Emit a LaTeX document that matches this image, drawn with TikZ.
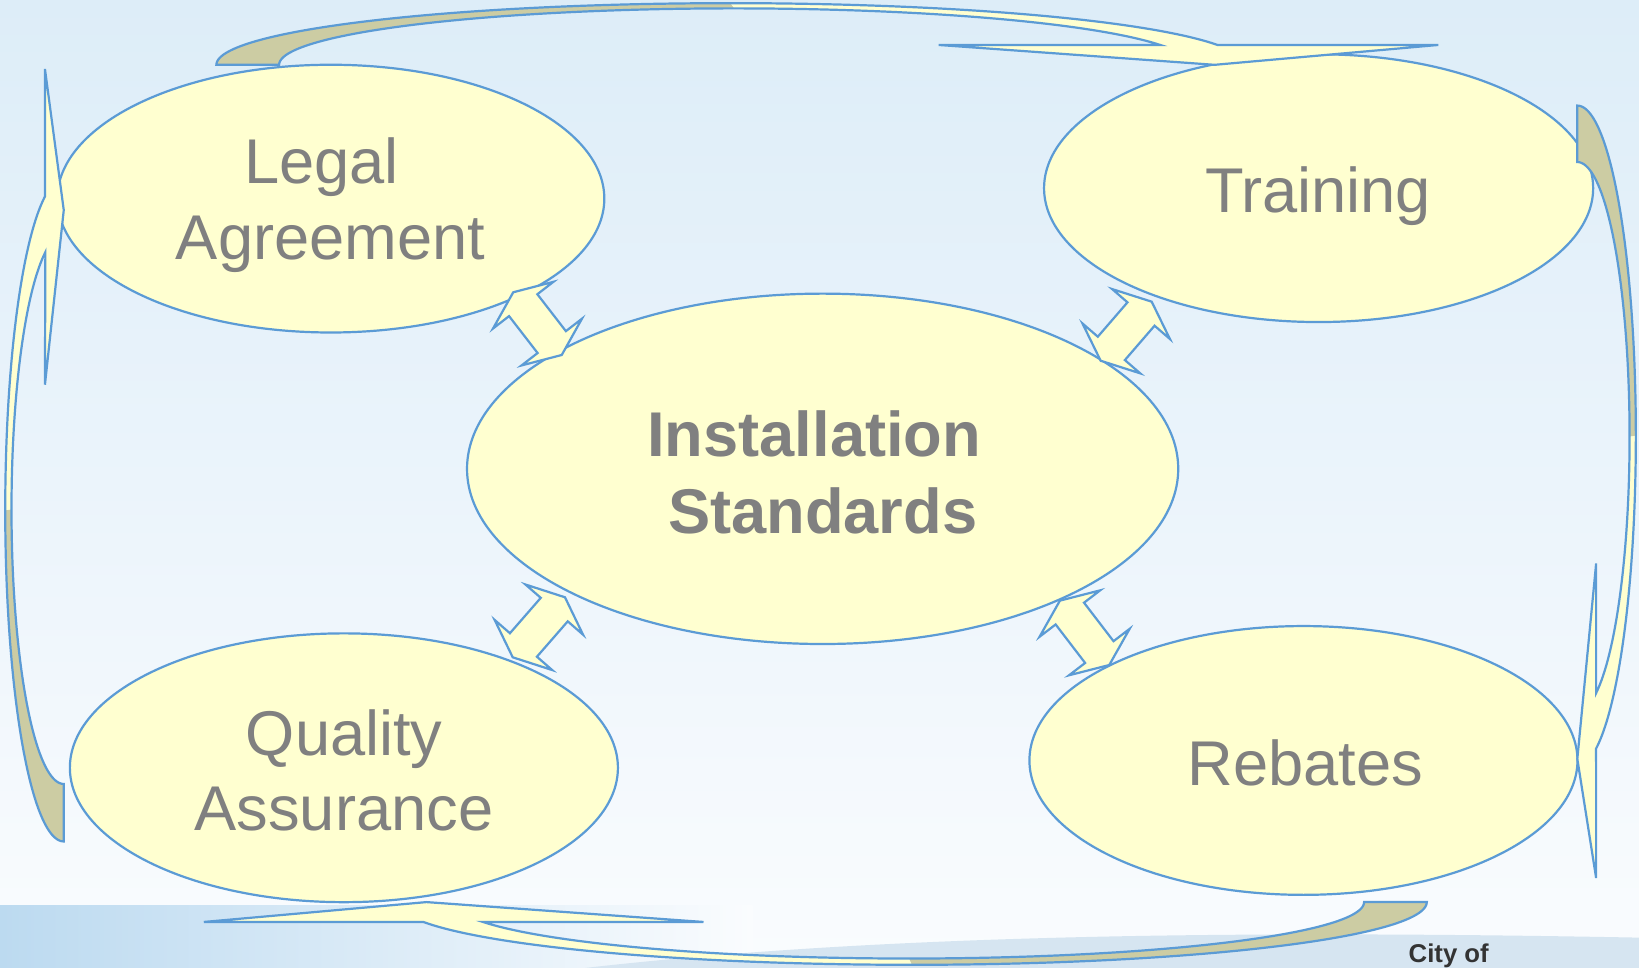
\documentclass[tikz,border=0pt]{standalone}
\usepackage{fontspec}
\setmainfont{Liberation Sans}
\usetikzlibrary{shapes.geometric,calc}
\definecolor{edgeblue}{RGB}{91,155,213}
\definecolor{bubblefill}{RGB}{255,255,208}
\definecolor{tanfill}{RGB}{204,204,163}
\definecolor{txtgray}{RGB}{128,128,128}
\definecolor{bgtop}{RGB}{221,237,248}
\definecolor{bgmid}{RGB}{235,244,251}
\definecolor{bgbot}{RGB}{250,252,254}
\definecolor{bandblue}{RGB}{188,218,240}
\definecolor{swoosh}{RGB}{214,229,241}
\tikzset{
  bubble/.style={ellipse, draw=edgeblue, line width=0.6pt, fill=bubblefill, inner sep=0pt},
  lbl/.style={anchor=base, text=txtgray, inner sep=0pt, font=\fontsize{17.2}{20}\selectfont},
  lblb/.style={anchor=base, text=txtgray, inner sep=0pt, font=\fontsize{17.2}{20}\selectfont\bfseries},
  dblarrow/.style={draw=edgeblue, fill=bubblefill, line width=0.6pt, line join=miter},
  tanband/.style={fill=tanfill},
  yelband/.style={fill=bubblefill},
  bandedge/.style={draw=edgeblue, line width=0.6pt, line join=miter},
}
\newcommand\dblarr[3]{%
  \coordinate (#1ha) at ($(#2)!0.156cm!(#3)$);
  \coordinate (#1hb) at ($(#3)!0.156cm!(#2)$);
  \filldraw[dblarrow] (#2)
    -- ($(#1ha)!0.365cm!90:(#3)$) -- ($(#1ha)!0.171cm!90:(#3)$)
    -- ($(#1hb)!0.171cm!-90:(#2)$) -- ($(#1hb)!0.365cm!-90:(#2)$)
    -- (#3)
    -- ($(#1hb)!0.365cm!90:(#2)$) -- ($(#1hb)!0.171cm!90:(#2)$)
    -- ($(#1ha)!0.171cm!-90:(#3)$) -- ($(#1ha)!0.365cm!-90:(#3)$)
    -- cycle;
}
\begin{document}
\begin{tikzpicture}[x=0.01cm,y=-0.01cm]
\useasboundingbox (0,0) rectangle (1568,926);
\clip (0,0) rectangle (1568,926);
% background
\shade[top color=bgtop, bottom color=bgbot, middle color=bgmid] (0,0) rectangle (1568,926);
\shade[left color=bandblue, right color=bgbot] (0,866) rectangle (720,926);
\fill[swoosh] (560,926) .. controls (850,893) and (1200,890) .. (1568,897) -- (1568,926) -- cycle;
\node[anchor=base west, inner sep=0pt, font=\fontsize{7}{8}\selectfont\bfseries, text=black!80] (city) at (1347,921) {City of};

% ellipses
\node[bubble, minimum width=5.23cm, minimum height=2.56cm] (legal) at (316.5,190) {};
\node[bubble, minimum width=5.25cm, minimum height=2.56cm] (training) at (1261.5,180) {};
\node[bubble, minimum width=6.80cm, minimum height=3.35cm] (install) at (787,448.5) {};
\node[bubble, minimum width=5.24cm, minimum height=2.57cm] (quality) at (329,734.5) {};
\node[bubble, minimum width=5.24cm, minimum height=2.57cm] (rebates) at (1247,727.5) {};

% labels
\node[lbl] (legal1) at (307.7,175.4) {Legal};
\node[lbl] (legal2) at (316.3,248.7) {Agreement};
\node[lbl] (train1) at (1261,203.5) {Training};
\node[lblb] (inst1) at (779,437) {Installation};
\node[lblb] (inst2) at (787,510) {Standards};
\node[lbl] (qual1) at (329.3,722.3) {Quality};
\node[lbl] (qual2) at (329,794.7) {Assurance};
\node[lbl] (reb1) at (1249,751) {Rebates};

% small double arrows
\coordinate (a1) at (491,279.6);   \coordinate (b1) at (537.4,339.6);
\coordinate (a2) at (1101.8,288.6); \coordinate (b2) at (1053,345.1);
\coordinate (a3) at (540.5,571.4); \coordinate (b3) at (490.5,628.8);
\coordinate (a4) at (1014,574.6);  \coordinate (b4) at (1061.2,636.2);
\dblarr{da}{a1}{b1}
\dblarr{db}{a2}{b2}
\dblarr{dc}{a3}{b3}
\dblarr{dd}{a4}{b4}

% top curved arrow (Legal -> Training)
\fill[tanband] plot[domain=180:270, samples=60] ({699+492*cos(\x)},{62+59*sin(\x)})
  -- plot[domain=270:180, samples=60] ({702.4+435.4*cos(\x)},{62+54*sin(\x)}) -- cycle;
\fill[yelband] plot[domain=270:341.2, samples=60] ({699+492*cos(\x)},{62+59*sin(\x)})
  -- (1376,43) -- (1162,62) -- (898,43)
  -- plot[domain=339.4:270, samples=60] ({702.4+435.4*cos(\x)},{62+54*sin(\x)}) -- cycle;
\draw[bandedge] plot[domain=180:341.2, samples=100] ({699+492*cos(\x)},{62+59*sin(\x)})
  -- (1376,43) -- (1162,62) -- (898,43)
  -- plot[domain=339.4:180, samples=100] ({702.4+435.4*cos(\x)},{62+54*sin(\x)}) -- cycle;

% right curved arrow (Training -> Rebates)
\fill[tanband] plot[domain=-90:0, samples=60] ({1509+56*cos(\x)},{416.9+315.9*sin(\x)})
  -- plot[domain=0:-90, samples=60] ({1509+50*cos(\x)},{417.8+262.8*sin(\x)}) -- cycle;
\fill[yelband] plot[domain=0:71.3, samples=60] ({1509+56*cos(\x)},{416.9+315.9*sin(\x)})
  -- (1527,840) -- (1509,726) -- (1527,539)
  -- plot[domain=68.9:0, samples=60] ({1509+50*cos(\x)},{417.8+262.8*sin(\x)}) -- cycle;
\draw[bandedge] plot[domain=-90:71.3, samples=100] ({1509+56*cos(\x)},{416.9+315.9*sin(\x)})
  -- (1527,840) -- (1509,726) -- (1527,539)
  -- plot[domain=68.9:-90, samples=100] ({1509+50*cos(\x)},{417.8+262.8*sin(\x)}) -- cycle;

% bottom curved arrow (Rebates -> Quality)
\fill[tanband] plot[domain=0:90, samples=60] ({872.3+492.7*cos(\x)},{863+60*sin(\x)})
  -- plot[domain=90:0, samples=60] ({869.6+435.4*cos(\x)},{863+54*sin(\x)}) -- cycle;
\fill[yelband] plot[domain=90:161.5, samples=60] ({872.3+492.7*cos(\x)},{863+60*sin(\x)})
  -- (195,882) -- (408,863) -- (673,882)
  -- plot[domain=159.4:90, samples=60] ({869.6+435.4*cos(\x)},{863+54*sin(\x)}) -- cycle;
\draw[bandedge] plot[domain=0:161.5, samples=100] ({872.3+492.7*cos(\x)},{863+60*sin(\x)})
  -- (195,882) -- (408,863) -- (673,882)
  -- plot[domain=159.4:0, samples=100] ({869.6+435.4*cos(\x)},{863+54*sin(\x)}) -- cycle;

% left curved arrow (Quality -> Legal)
\fill[tanband] plot[domain=90:180, samples=60] ({61+56*cos(\x)},{488.1+316.9*sin(\x)})
  -- plot[domain=180:90, samples=60] ({61+50*cos(\x)},{487.2+262.8*sin(\x)}) -- cycle;
\fill[yelband] plot[domain=180:251.2, samples=60] ({61+56*cos(\x)},{488.1+316.9*sin(\x)})
  -- (43,66) -- (61,201) -- (43,368)
  -- plot[domain=249.4:180, samples=60] ({61+50*cos(\x)},{487.2+262.8*sin(\x)}) -- cycle;
\draw[bandedge] plot[domain=90:251.2, samples=100] ({61+56*cos(\x)},{488.1+316.9*sin(\x)})
  -- (43,66) -- (61,201) -- (43,368)
  -- plot[domain=249.4:90, samples=100] ({61+50*cos(\x)},{487.2+262.8*sin(\x)}) -- cycle;
\end{tikzpicture}
\end{document}
